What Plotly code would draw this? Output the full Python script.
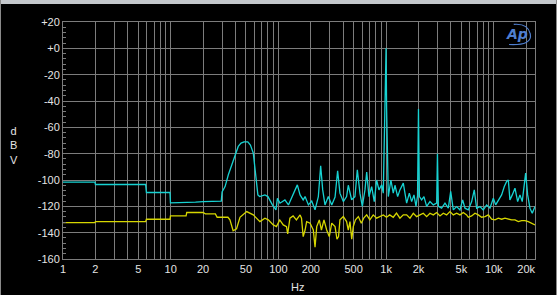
import plotly.graph_objects as go

# ---- data ----
cyan_hz = [1, 1.98, 2.0, 5.85, 5.95, 9.85, 9.95, 15, 17, 20, 29.5, 30, 32, 34.3, 37, 39, 42.4, 45, 48, 52,
           55, 58.5, 61.5, 64.5, 67, 75, 80, 88, 95, 98, 103.5, 115, 124, 133, 143, 150, 159, 170, 177, 190,
           204, 219, 235, 247, 258, 271, 291, 313, 336, 355, 373, 401, 430, 446, 479, 514, 541, 572, 602, 637,
           661, 694, 735, 777, 817, 859, 910, 942, 975, 1000, 1012, 1049, 1109, 1166, 1210, 1281, 1345, 1445,
           1553, 1644, 1729, 1816, 1896, 1960, 2000, 2040, 2139, 2248, 2381, 2557, 2744, 2950, 3000, 3060,
           3280, 3524, 3785, 3982, 4211, 4522, 4856, 5142, 5404, 5800, 6236, 6592, 6931, 7444, 7987, 8587,
           9222, 9909, 10418, 11018, 11830, 12530, 13180, 13650, 14130, 14860, 15740, 16670, 17510, 18390,
           19200, 19770, 20640, 21680, 22780, 24140]
cyan_dbv = [-101.6, -101.6, -103.4, -103.4, -109.5, -109.5, -117.4, -117.2, -116.8, -116.4, -116, -109, -105,
            -96, -88, -83.5, -74.5, -72, -71, -71, -73.5, -79.6, -94.8, -111.3, -112.6, -111.3, -112.6, -118.9,
            -122.7, -114, -117.6, -115.1, -118.9, -113.8, -107.5, -103.7, -111.3, -115.1, -112.6, -118.9, -116,
            -122.7, -112.6, -89.2, -107.5, -118.9, -112.6, -118.9, -113, -93, -110, -116.4, -112.6, -104, -115,
            -112.6, -92.3, -110, -120, -107.5, -94, -112.6, -105, -116.4, -100, -107.5, -103.7, -110, -28, 0,
            -46, -112.6, -100, -110, -104, -112.6, -107.5, -102.4, -117.6, -110, -116.4, -111.3, -120, -112,
            -46, -112.6, -115.1, -112.6, -120, -116.4, -118.9, -117.6, -80, -120, -121.4, -117.6, -121.4,
            -108.7, -122.7, -120.2, -122.7, -115.1, -121.4, -122.7, -116.4, -107.5, -121.4, -120.2, -122.7,
            -118.9, -121.4, -113.8, -118.9, -115.1, -111.3, -105, -101.1, -100, -115.1, -111.3, -106.2, -116.4,
            -111.3, -116.4, -103.7, -94.8, -111.3, -121.4, -125.2, -120.2]

yellow_hz = [1, 1.98, 2.0, 5.85, 5.95, 9.85, 9.95, 13.9, 14.1, 20, 21, 26, 27, 34, 35.5, 37, 38, 40.9, 44,
             50.8, 58.5, 67.4, 75, 80.6, 89.7, 96, 103, 111, 119, 122, 128, 137, 147, 159, 164, 170, 177, 183,
             197, 211, 219, 227, 240, 251, 265, 281, 297, 313, 336, 350, 362, 373, 401, 430, 446, 462, 480,
             496, 520, 553, 589, 620, 661, 707, 760, 817, 875, 942, 1010, 1080, 1166, 1250, 1345, 1445, 1553,
             1668, 1791, 1923, 2065, 2218, 2381, 2557, 2746, 2949, 3166, 3400, 3651, 3921, 4211, 4522, 4856,
             5214, 5600, 5804, 6233, 6694, 7188, 7719, 8290, 8902, 9560, 10266, 11025, 11840, 12714, 13654,
             14663, 15746, 16909, 18158, 19500, 20941, 22488, 24150]
yellow_dbv = [-132.3, -132.3, -131.6, -131.6, -129.8, -129.8, -127.3, -127.3, -124.7, -124.7, -125.7, -125.7,
              -128.3, -128.3, -130.3, -135, -138.5, -137, -128.3, -124, -126.5, -131.6, -129, -130.3, -134.1,
              -135.4, -130.3, -134.1, -135.4, -141, -129, -127.3, -130.3, -126.5, -129, -143, -138, -131.6,
              -132.8, -138, -151, -135.4, -130.3, -138, -130.3, -138, -143, -132.8, -135.4, -145, -143, -130.3,
              -127.8, -131.6, -138, -131.6, -145, -135.4, -130.3, -127.8, -132.8, -129, -126.5, -130.3, -126.5,
              -129, -127.8, -126.5, -128.3, -126.5, -128.3, -125.2, -129, -126.5, -126.5, -129, -125.2, -127.8,
              -126.5, -125.2, -127.8, -125.2, -126.5, -124.7, -127.3, -125.2, -126.5, -124, -126.5, -125.2,
              -126.5, -124.7, -126.5, -128.3, -127.3, -125.2, -126.5, -128.3, -127.8, -126.5, -129.8, -130.3,
              -129, -129.8, -129, -129.8, -130.3, -130.3, -131.6, -130.8, -130.8, -131.6, -132.8, -134.1]

x_grid = [m * 10 ** d for d in range(5) for m in range(1, 10) if m * 10 ** d <= 24000]
x_labels = {1: "1", 2: "2", 5: "5", 10: "10", 20: "20", 50: "50", 100: "100", 200: "200", 500: "500",
            1000: "1k", 2000: "2k", 5000: "5k", 10000: "10k", 20000: "20k"}
x_text = [x_labels.get(v, "") for v in x_grid]
y_ticks = [20, 0, -20, -40, -60, -80, -100, -120, -140, -160]
y_text = ["+20", "+0", "-20", "-40", "-60", "-80", "-100", "-120", "-140", "-160"]

GRID = "#7c7c7c"
TXT = "#e4e4e4"
FONT = "Liberation Sans, Arial, sans-serif"
LOGO = "#4f7fd0"

fig = go.Figure()
fig.add_trace(go.Scatter(x=cyan_hz, y=cyan_dbv, mode="lines",
                         line=dict(color="#17d2d2", width=1.3), showlegend=False))
fig.add_trace(go.Scatter(x=yellow_hz, y=yellow_dbv, mode="lines",
                         line=dict(color="#d6d600", width=1.3), showlegend=False))

fig.update_layout(
    width=557, height=295,
    margin=dict(l=63, r=22, t=22, b=36),
    paper_bgcolor="#000000", plot_bgcolor="#000000",
    font=dict(family=FONT, size=11, color=TXT),
    xaxis=dict(type="log", range=[0, 4.383], tickvals=x_grid, ticktext=x_text,
               showgrid=True, gridcolor=GRID, gridwidth=1, ticks="", zeroline=False,
               showline=True, linecolor=GRID, mirror=True, tickfont=dict(size=11, color=TXT)),
    yaxis=dict(range=[-160, 20], tickvals=y_ticks, ticktext=y_text,
               showgrid=True, gridcolor=GRID, gridwidth=1, ticks="inside", ticklen=4, tickcolor=GRID,
               minor=dict(dtick=4, ticks="inside", ticklen=3, tickcolor=GRID, showgrid=False),
               zeroline=False, showline=True, linecolor=GRID, mirror=True,
               tickfont=dict(size=11, color=TXT)),
    annotations=[
        dict(text="d<br>B<br>V", x=-0.117, y=0.48, xref="paper", yref="paper", showarrow=False,
             font=dict(size=11, color=TXT), align="center"),
        dict(text="Hz", x=0.497, y=-0.117, xref="paper", yref="paper", showarrow=False,
             yanchor="middle", font=dict(size=11, color=TXT)),
        dict(text="<b><i>Ap</i></b>", x=0.962, y=0.95, xref="paper", yref="paper", showarrow=False,
             xanchor="center", yanchor="middle", font=dict(size=14, color=LOGO, family="DejaVu Sans")),
    ],
    shapes=[
        dict(type="path", xref="paper", yref="paper",
             path="M 0.945,0.905 Q 0.995,0.90 0.99,0.95 Q 0.985,0.995 0.955,0.99",
             line=dict(color=LOGO, width=1.2)),
        dict(type="rect", xref="paper", yref="paper", x0=-63/472, x1=(557-63)/472,
             y0=1 + 22/237 - 4/237, y1=1 + 22/237, fillcolor="#c4c8cc", line=dict(width=0), layer="above"),
        dict(type="line", xref="paper", yref="paper", x0=-62.5/472, x1=-62.5/472,
             y0=-36/237, y1=1 + 22/237, line=dict(color="#8a8a8a", width=1)),
        dict(type="line", xref="paper", yref="paper", x0=(556.5-63)/472, x1=(556.5-63)/472,
             y0=-36/237, y1=1 + 22/237, line=dict(color="#8a8a8a", width=1)),
    ],
)

fig.write_html("out.html")
